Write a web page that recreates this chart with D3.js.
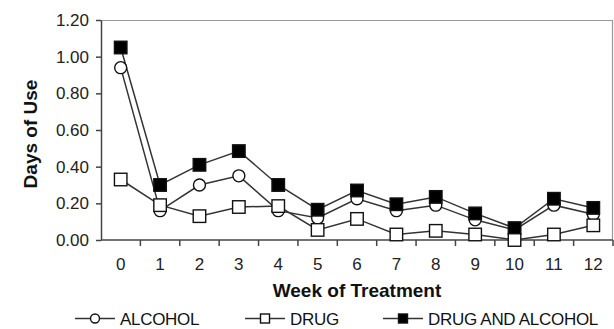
<!DOCTYPE html>
<html lang="en">
<head>
	<meta charset="utf-8">
	<title>Days of Use by Week of Treatment</title>
	<script src="https://d3js.org/d3.v7.min.js"></script>
	<style type="text/css">
		body { margin: 0; background: #fff; }
		svg { display: block; font-family: "Liberation Sans", Arial, sans-serif; }
	</style>
</head>
<body>
	<svg id="chart" width="614" height="329"></svg>

	<script type="text/javascript">

	// data
	var weeks = [0, 1, 2, 3, 4, 5, 6, 7, 8, 9, 10, 11, 12]
	var alcohol = [0.94, 0.16, 0.30, 0.35, 0.16, 0.12, 0.225, 0.16, 0.19, 0.11, 0.055, 0.19, 0.14]
	var drug = [0.33, 0.19, 0.13, 0.18, 0.185, 0.055, 0.115, 0.03, 0.05, 0.03, 0.0, 0.03, 0.08]
	var drugAlcohol = [1.05, 0.30, 0.41, 0.485, 0.30, 0.165, 0.27, 0.195, 0.235, 0.145, 0.065, 0.225, 0.175]
	var yTicks = [0, 0.2, 0.4, 0.6, 0.8, 1.0, 1.2]
	var seriesNames = ["ALCOHOL", "DRUG", "DRUG AND ALCOHOL"]

	// series table (drawing order: alcohol, drug+alcohol, drug on top)
	var series = [
		{name: seriesNames[0], values: alcohol, shape: "circle", fill: "#fff"},
		{name: seriesNames[2], values: drugAlcohol, shape: "square", fill: "#000"},
		{name: seriesNames[1], values: drug, shape: "square", fill: "#fff"}
	]

	var margin = {top: 20, right: 1, bottom: 89, left: 101}
	var W = 614, H = 329
	var lineColor = "#333"

	var svg = d3.select("#chart")

	var x = d3.scaleBand()
		.domain(weeks)
		.range([margin.left, W - margin.right])
		.padding(0)

	var y = d3.scaleLinear()
		.domain([0, 1.2])
		.range([H - margin.bottom, margin.top])

	// plot border on top and right
	svg.append("path")
		.attr("d", "M" + margin.left + "," + (y(1.2) + 0.5) + "H" + (W - margin.right - 0.5) + "V" + y(0))
		.attr("fill", "none")
		.attr("stroke", "#999")
		.attr("stroke-width", 1.2)

	// y axis
	var yAxis = svg.append("g")
		.attr("transform", "translate(" + margin.left + ",0)")
		.call(d3.axisLeft(y).tickValues(yTicks).tickFormat(d3.format(".2f")).tickSize(5).tickPadding(7).tickSizeOuter(0))
	yAxis.selectAll("line, path").attr("stroke", "#444").attr("stroke-width", 1.5)
	yAxis.selectAll("text").attr("font-size", 17).attr("fill", "#222")
		.attr("font-family", "Liberation Sans, Arial, sans-serif")

	// x axis: baseline with ticks at band boundaries
	var xAxis = svg.append("g")
	xAxis.append("line")
		.attr("x1", margin.left).attr("x2", W - margin.right)
		.attr("y1", y(0)).attr("y2", y(0))
		.attr("stroke", "#444").attr("stroke-width", 1.5)
	var bounds = weeks.map(d => x(d)).concat([x(weeks[weeks.length - 1]) + x.bandwidth()])
	xAxis.selectAll("line.tick")
		.data(bounds.slice(1))
		.join("line")
		.attr("class", "tick")
		.attr("x1", d => d).attr("x2", d => d)
		.attr("y1", y(0)).attr("y2", y(0) + 6)
		.attr("stroke", "#444").attr("stroke-width", 1.5)
	xAxis.selectAll("text")
		.data(weeks)
		.join("text")
		.attr("x", d => x(d) + x.bandwidth() / 2)
		.attr("y", y(0) + 30)
		.attr("text-anchor", "middle")
		.attr("font-size", 17)
		.attr("fill", "#222")
		.text(d => d)

	// axis titles
	svg.append("text")
		.attr("x", (margin.left + W - margin.right) / 2)
		.attr("y", 297)
		.attr("text-anchor", "middle")
		.attr("font-size", 19)
		.attr("font-weight", "bold")
		.attr("fill", "#111")
		.text("Week of Treatment")

	svg.append("text")
		.attr("transform", "translate(37," + ((y(0) + y(1.2)) / 2 + 4) + ") rotate(-90)")
		.attr("text-anchor", "middle")
		.attr("font-size", 19)
		.attr("font-weight", "bold")
		.attr("fill", "#111")
		.text("Days of Use")

	// lines
	var line = d3.line()
		.x((d, i) => x(weeks[i]) + x.bandwidth() / 2)
		.y(d => y(d))

	svg.append("g")
		.selectAll("path")
		.data(series)
		.join("path")
		.attr("fill", "none")
		.attr("stroke", lineColor)
		.attr("stroke-width", 1.5)
		.attr("d", d => line(d.values))

	// markers
	function drawMarker(g, shape, fill, cx, cy, size) {
		if (shape === "circle") {
			g.append("circle")
				.attr("cx", cx).attr("cy", cy).attr("r", size / 2)
				.attr("fill", fill).attr("stroke", "#111").attr("stroke-width", 1.4)
		} else {
			g.append("rect")
				.attr("x", cx - size / 2).attr("y", cy - size / 2)
				.attr("width", size).attr("height", size)
				.attr("fill", fill).attr("stroke", "#111").attr("stroke-width", 1.4)
		}
	}

	var markers = svg.append("g")
	series.forEach(s => {
		var g = markers.append("g")
		s.values.forEach((v, i) => {
			drawMarker(g, s.shape, s.fill, x(weeks[i]) + x.bandwidth() / 2, y(v), s.shape === "circle" ? 12 : 12.5)
		})
	})

	// legend
	var legendItems = [
		{name: seriesNames[0], shape: "circle", fill: "#fff", x0: 75},
		{name: seriesNames[1], shape: "square", fill: "#fff", x0: 245},
		{name: seriesNames[2], shape: "square", fill: "#000", x0: 383}
	]
	var legendY = 318.5
	var legend = svg.append("g")
	legendItems.forEach(it => {
		var g = legend.append("g")
		g.append("line")
			.attr("x1", it.x0).attr("x2", it.x0 + 40)
			.attr("y1", legendY).attr("y2", legendY)
			.attr("stroke", lineColor).attr("stroke-width", 1.5)
		drawMarker(g, it.shape, it.fill, it.x0 + 20, legendY, 9)
		g.append("text")
			.attr("x", it.x0 + 45)
			.attr("y", legendY + 6)
			.attr("font-size", 17)
			.attr("letter-spacing", -0.3)
			.attr("fill", "#111")
			.text(it.name)
	})

	</script>
</body>
</html>
